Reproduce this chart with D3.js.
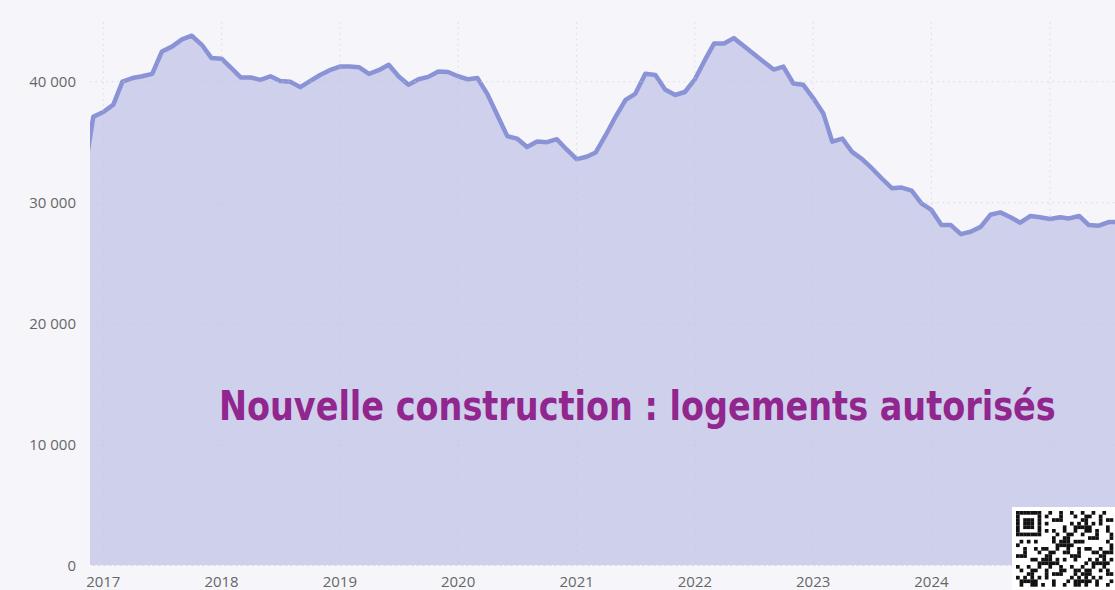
<!DOCTYPE html>
<html>
<head>
<meta charset="utf-8">
<script src="https://cdn.jsdelivr.net/npm/d3@7"></script>
<style>
  html, body { margin: 0; padding: 0; background: #f6f6fa; overflow: hidden; }
  svg { display: block; }
</style>
</head>
<body>
<div id="chart"></div>
<script>
// monthly series, first month = Nov 2016 (partly hidden behind the left edge)
const firstMonth = "2016-11-01";
const permits = [
    32000, 37100,
    37500, 38100, 40000, 40300, 40450, 40650, 42500, 42900, 43500, 43800, 43050, 41950,
    41900, 41100, 40350, 40350, 40150, 40450, 40050, 40000, 39550, 40050, 40550, 40950,
    41250, 41250, 41200, 40650, 40950, 41400, 40450, 39750, 40200, 40400, 40850, 40800,
    40450, 40200, 40300, 38950, 37250, 35500, 35300, 34600, 35050, 35000, 35250, 34400,
    33600, 33800, 34150, 35600, 37100, 38500, 39000, 40650, 40550, 39350, 38900, 39150,
    40200, 41800, 43150, 43150, 43600, 42950, 42300, 41650, 41000, 41250, 39850, 39750,
    38650, 37400, 35050, 35300, 34200, 33600, 32850, 32000, 31200, 31250, 31000, 29950,
    29400, 28150, 28150, 27400, 27600, 28000, 29000, 29200, 28800, 28350, 28900, 28800,
    28650, 28800, 28700, 28900, 28150, 28100, 28400, 28400
];
const yTicks = [0, 10000, 20000, 30000, 40000];
const yearTicks = [2017, 2018, 2019, 2020, 2021, 2022, 2023, 2024];
const title = "Nouvelle construction : logements autorisés";

const width = 1115;
const height = 590;

const start = new Date(firstMonth);
const data = permits.map((v, i) => ({
    date: d3.timeMonth.offset(start, i),
    value: v
}));

const x = d3.scaleTime()
    .domain([new Date(2017, 0, 1), new Date(2025, 0, 1)])
    .range([103.3, 1050]);

const y = d3.scaleLinear()
    .domain([0, 40000])
    .range([565.7, 81.7]);

const svg = d3.select("#chart")
    .append("svg")
    .attr("width", width)
    .attr("height", height);

svg.append("rect")
    .attr("width", width)
    .attr("height", height)
    .attr("fill", "#f6f6fa");

svg.append("clipPath")
    .attr("id", "plot-clip")
    .append("rect")
    .attr("x", 90)
    .attr("y", 0)
    .attr("width", width - 90)
    .attr("height", y(0));

const fmt = d3.format(",");
const yFormat = v => fmt(v).replace(/,/g, " ");

// area + line
const area = d3.area()
    .x(d => x(d.date))
    .y0(y(0))
    .y1(d => y(d.value));

const line = d3.line()
    .x(d => x(d.date))
    .y(d => y(d.value));

const plot = svg.append("g").attr("clip-path", "url(#plot-clip)");

plot.append("path")
    .datum(data)
    .attr("d", area)
    .attr("fill", "#cfd0eb");

// grid, dotted, above the fill
const grid = svg.append("g");

grid.selectAll(".hgrid")
    .data(yTicks)
    .join("line")
    .attr("class", "hgrid")
    .attr("x1", 90)
    .attr("x2", width)
    .attr("y1", d => y(d))
    .attr("y2", d => y(d))
    .attr("stroke", d => d === 0 ? "#ffffff" : "#c9c9d6")
    .attr("stroke-opacity", d => d === 0 ? 0.9 : 0.55)
    .attr("stroke-width", 1.2)
    .attr("stroke-dasharray", "1.5,4");

grid.selectAll(".vgrid")
    .data(yearTicks.concat([2025]))
    .join("line")
    .attr("class", "vgrid")
    .attr("x1", d => x(new Date(d, 0, 1)))
    .attr("x2", d => x(new Date(d, 0, 1)))
    .attr("y1", 22)
    .attr("y2", y(0))
    .attr("stroke", "#c9c9d6")
    .attr("stroke-opacity", 0.55)
    .attr("stroke-width", 1.2)
    .attr("stroke-dasharray", "1.5,4");

plot.append("path")
    .datum(data)
    .attr("d", line)
    .attr("fill", "none")
    .attr("stroke", "#8a93d6")
    .attr("stroke-width", 4.5)
    .attr("stroke-linejoin", "round");

// axes labels
svg.append("g")
    .selectAll("text")
    .data(yTicks)
    .join("text")
    .attr("x", 76)
    .attr("y", d => y(d))
    .attr("dy", "0.35em")
    .attr("text-anchor", "end")
    .style("font-family", "'Open Sans', 'Noto Sans', sans-serif")
    .style("font-size", "15px")
    .style("fill", "#666")
    .text(yFormat);

svg.append("g")
    .selectAll("text")
    .data(yearTicks)
    .join("text")
    .attr("x", d => x(new Date(d, 0, 1)))
    .attr("y", 587)
    .attr("text-anchor", "middle")
    .style("font-family", "'Open Sans', 'Noto Sans', sans-serif")
    .style("font-size", "15px")
    .style("fill", "#666")
    .text(d => d);

// title over the chart: size it to the wanted width, then stretch it vertically
const titleLeft = 219, titleBase = 420, titleWidth = 837, titleSize = 40;
const titleG = svg.append("g");
const titleText = titleG.append("text")
    .attr("x", 0)
    .attr("y", 0)
    .style("font-family", "'DejaVu Sans Condensed', 'DejaVu Sans', sans-serif")
    .style("font-weight", "bold")
    .style("font-size", titleSize + "px")
    .style("fill", "#92268f")
    .text(title);
const natural = titleText.node().getComputedTextLength();
const fitSize = titleSize * titleWidth / natural;
titleText.style("font-size", fitSize + "px");
titleG.attr("transform", `translate(${titleLeft},${titleBase}) scale(1,${titleSize / fitSize})`);

// qr code block (decorative)
const qr = svg.append("g").attr("transform", "translate(1012,507)");
qr.append("rect")
    .attr("width", 103)
    .attr("height", 83)
    .attr("fill", "#ffffff");

const cell = 3.6;
const cells = [];
for (let r = 0; r < 21; r++) {
    for (let c = 0; c < 27; c++) {
        let on;
        if (r < 7 && c < 7) {
            on = (r === 0 || r === 6 || c === 0 || c === 6 || (r >= 2 && r <= 4 && c >= 2 && c <= 4));
        } else if ((r === 7 && c < 8) || (c === 7 && r < 8)) {
            on = false;
        } else {
            on = ((r * 7 + c * 13 + (r * c) % 5) % 3) === 0 || ((r + c) % 4 === 1 && (r * c) % 3 !== 0);
        }
        if (on) cells.push({ r, c });
    }
}
qr.selectAll(".mod")
    .data(cells)
    .join("rect")
    .attr("class", "mod")
    .attr("x", d => 4 + d.c * cell)
    .attr("y", d => 4 + d.r * cell)
    .attr("width", cell + 0.1)
    .attr("height", cell + 0.1)
    .attr("fill", "#111");
</script>
</body>
</html>
